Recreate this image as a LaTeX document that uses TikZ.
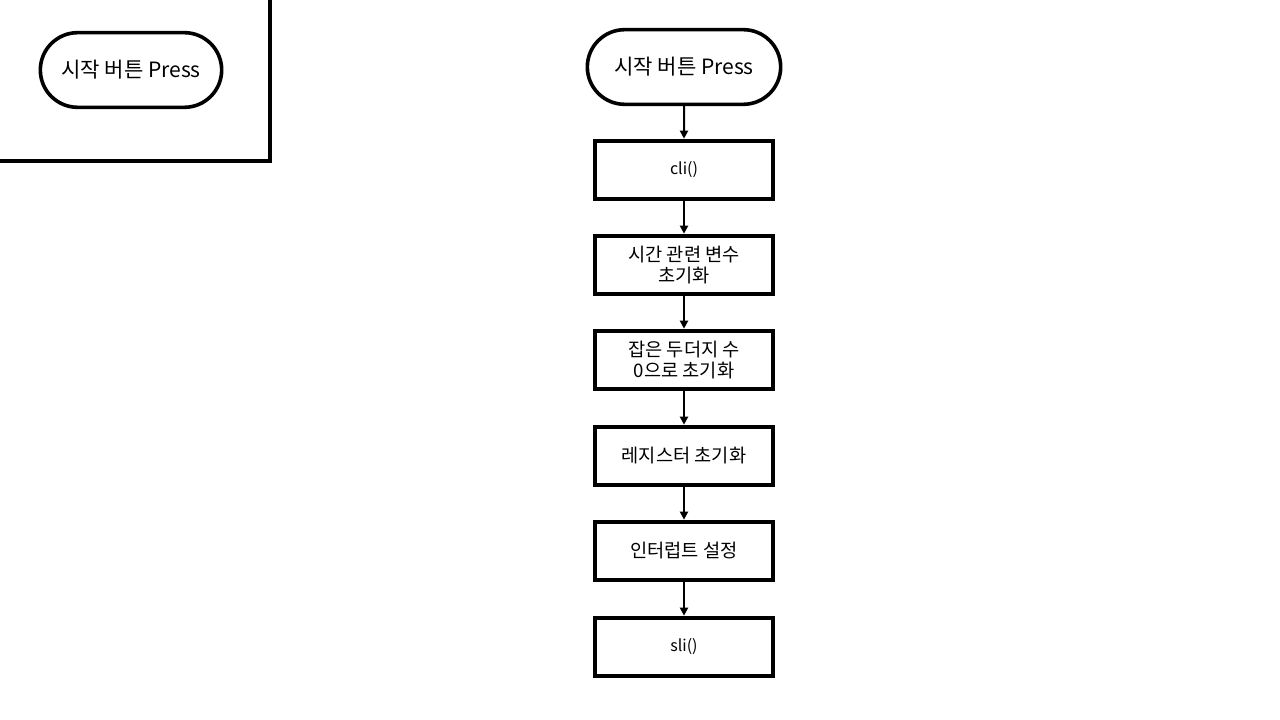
\documentclass[tikz,border=0pt]{standalone}
\usepackage{fontspec}
\setmainfont{Noto Sans CJK KR}
\usetikzlibrary{arrows.meta,shapes.misc}
\begin{document}
\begin{tikzpicture}[x=0.75pt,y=-0.75pt,
  term/.style={draw=black,line width=2.7pt,rounded rectangle,minimum width=145pt,minimum height=56pt,inner sep=0pt,font=\fontsize{15.8}{19}\selectfont},
  term2/.style={term,minimum width=136pt},
  procbox/.style={draw=black,line width=3pt,rectangle,minimum width=133pt,minimum height=44pt,inner sep=0pt,align=center,font=\fontsize{14}{15.75}\selectfont},
  flow/.style={line width=1.5pt,-{Triangle[length=6pt,width=6pt]}},
  frame/.style={line width=2.3pt}]
\useasboundingbox (0,0) rectangle (1280,720);
\fill[white] (0,0) rectangle (1280,720);
% top-left frame
\coordinate (fa) at (0,161);
\coordinate (fb) at (270,161);
\coordinate (fc) at (270,0);
\draw[frame] (fa) -- (fb) -- (fc);
\node[term2] (t0) at (131,70) {시작 버튼 Press};
% main flow
\node[term] (s) at (684,67) {시작 버튼 Press};
\node[procbox,font=\fontsize{12}{14}\selectfont] (b1) at (684,170) {cli()};
\node[procbox] (b2) at (684,265) {시간 관련 변수\\초기화};
\node[procbox] (b3) at (684,360) {잡은 두더지 수\\0으로 초기화};
\node[procbox] (b4) at (684,456) {레지스터 초기화};
\node[procbox] (b5) at (684,551) {인터럽트 설정};
\node[procbox,font=\fontsize{12}{14}\selectfont] (b6) at (684,647) {sli()};
\draw[flow] (s) -- (b1);
\draw[flow] (b1) -- (b2);
\draw[flow] (b2) -- (b3);
\draw[flow] (b3) -- (b4);
\draw[flow] (b4) -- (b5);
\draw[flow] (b5) -- (b6);
\end{tikzpicture}
\end{document}
